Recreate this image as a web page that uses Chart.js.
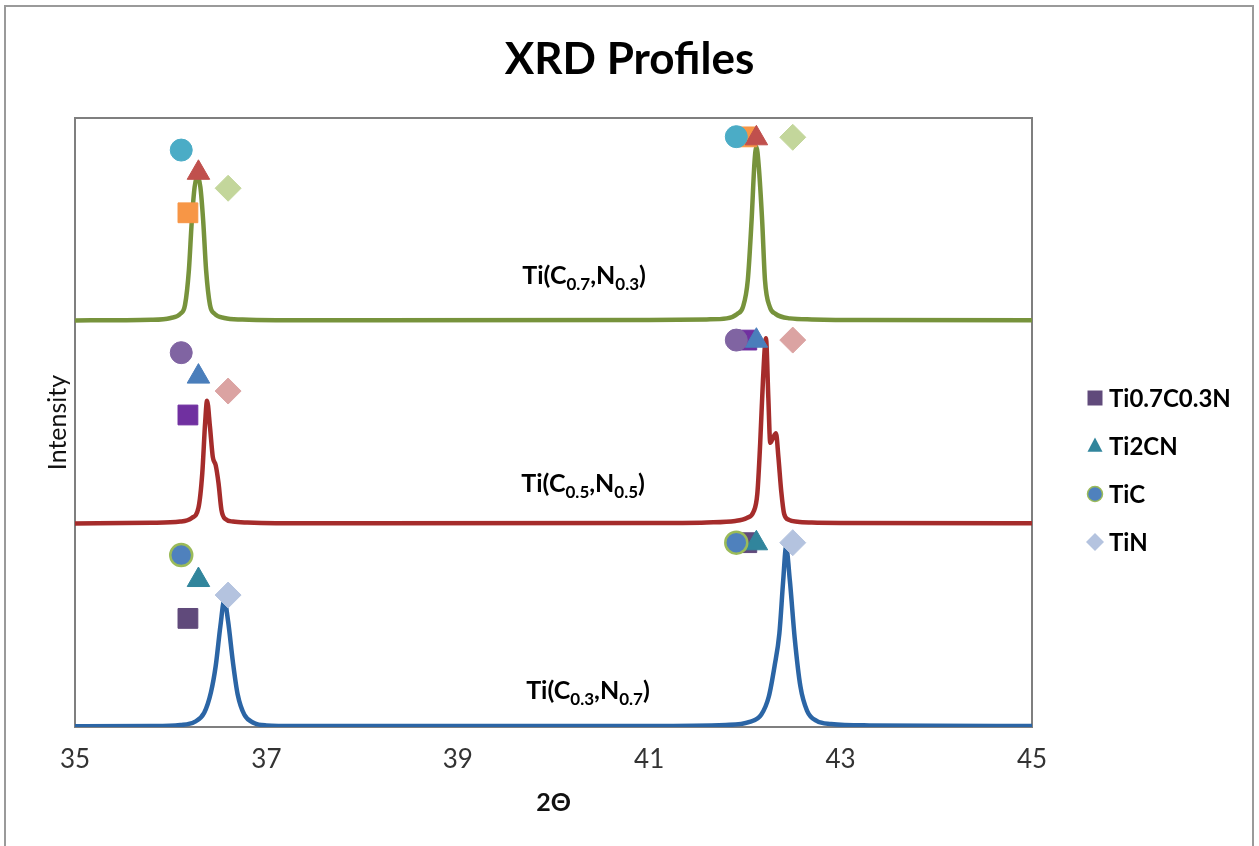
<!DOCTYPE html>
<html>
<head>
<meta charset="utf-8">
<script src="https://cdn.jsdelivr.net/npm/chart.js@4.4.1/dist/chart.umd.min.js"></script>
<style>
  html, body { margin: 0; padding: 0; background: #fff; }
  #wrap { position: relative; width: 1259px; height: 846px; overflow: hidden; }
  #xrd { position: absolute; left: 0; top: 0; }
  #frame { position: absolute; left: 4px; top: 5px; width: 1250px; height: 900px;
           border: 2px solid #9a9a9a; box-sizing: border-box; pointer-events: none; }
</style>
</head>
<body>
<div id="wrap">
  <canvas id="xrd" width="1259" height="846"></canvas>
  <div id="frame"></div>
</div>
<script>
// phases marked on the peaks (legend order)
const phases = ['Ti0.7C0.3N', 'Ti2CN', 'TiC', 'TiN'];
const phaseShapes = ['rect', 'triangle', 'circle', 'rectRot'];

// samples, bottom to top
const sampleC = ['0.3', '0.5', '0.7'];
const sampleN = ['0.7', '0.5', '0.3'];

// Ti(C0.3,N0.7) profile (offset 0)
const c03X = [35, 35.8, 36.1, 36.25, 36.35, 36.42, 36.47, 36.52, 36.56, 36.6, 36.65, 36.7, 36.77, 36.87, 37.0, 37.3,
              41.0, 41.8, 42.05, 42.17, 42.25, 42.31, 42.36, 42.4, 42.43, 42.47, 42.52, 42.58, 42.65, 42.75, 42.9, 43.3, 45];
const c03Y = [0.004, 0.005, 0.01, 0.025, 0.07, 0.17, 0.3, 0.5, 0.625, 0.52, 0.32, 0.16, 0.06, 0.02, 0.008, 0.005,
              0.005, 0.01, 0.025, 0.06, 0.15, 0.3, 0.46, 0.72, 0.885, 0.72, 0.44, 0.2, 0.08, 0.03, 0.015, 0.008, 0.005];

// Ti(C0.5,N0.5) profile (offset 1)
const c05X = [35, 35.8, 36.1, 36.22, 36.29, 36.33, 36.36, 36.38, 36.41, 36.44, 36.47, 36.5, 36.53, 36.57, 36.65, 36.8, 37.1,
              41.0, 41.6, 41.9, 42.02, 42.09, 42.13, 42.16, 42.19, 42.22, 42.245, 42.265, 42.29, 42.325, 42.35, 42.38, 42.41,
              42.46, 42.55, 42.7, 43.0, 45];
const c05Y = [1.003, 1.006, 1.012, 1.03, 1.08, 1.25, 1.5, 1.607, 1.48, 1.33, 1.29, 1.2, 1.07, 1.025, 1.012, 1.007, 1.004,
              1.005, 1.008, 1.015, 1.03, 1.06, 1.15, 1.4, 1.72, 1.915, 1.62, 1.4, 1.42, 1.447, 1.33, 1.16, 1.05,
              1.02, 1.011, 1.007, 1.005, 1.004];

// Ti(C0.7,N0.3) profile (offset 2)
const c07X = [35, 35.8, 36.0, 36.1, 36.15, 36.19, 36.22, 36.25, 36.28, 36.31, 36.34, 36.37, 36.41, 36.46, 36.56, 36.75, 37.1,
              41.0, 41.6, 41.81, 41.92, 41.98, 42.03, 42.07, 42.1, 42.12, 42.145, 42.18, 42.21, 42.26, 42.32, 42.47, 42.7, 43.2, 45];
const c07Y = [2.003, 2.006, 2.015, 2.035, 2.08, 2.25, 2.49, 2.66, 2.71, 2.66, 2.49, 2.25, 2.08, 2.035, 2.015, 2.007, 2.004,
              2.005, 2.008, 2.013, 2.035, 2.07, 2.2, 2.497, 2.78, 2.858, 2.76, 2.497, 2.2, 2.07, 2.035, 2.013, 2.008, 2.005, 2.004];

// reference peak positions for each phase (low angle, high angle)
const markX = [[36.18, 42.02], [36.29, 42.12], [36.11, 41.91], [36.6, 42.5]];
// marker heights per sample, in phase order
const c03MarkY = [[0.535, 0.908], [0.724, 0.905], [0.847, 0.908], [0.65, 0.908]];
const c05MarkY = [[1.537, 1.906], [1.726, 1.903], [1.844, 1.906], [1.655, 1.906]];
const c07MarkY = [[2.533, 2.907], [2.73, 2.9], [2.842, 2.908], [2.654, 2.905]];

const xTicks = [35, 37, 39, 41, 43, 45];

// styles
const lineColors = ['#2b65a5', '#a52c2b', '#77933c'];
const markFill = [
  ['#604a7b', '#31859c', '#4f81bd', '#b4c3df'],
  ['#7030a0', '#4a7ebb', '#8064a2', '#dba3a2'],
  ['#f79646', '#c0504d', '#4bacc6', '#c3d69b']
];
const markStroke = [
  ['#604a7b', '#31859c', '#9bbb59', '#b4c3df'],
  ['#7030a0', '#4a7ebb', '#8064a2', '#dba3a2'],
  ['#f79646', '#c0504d', '#4bacc6', '#c3d69b']
];
const markRadius = [14, 13, 11, 13];
const markOrder = [4, 3, 2, 1];

const profiles = [[c03X, c03Y], [c05X, c05Y], [c07X, c07Y]];
const markYs = [c03MarkY, c05MarkY, c07MarkY];

const datasets = [];
profiles.forEach(([xs, ys], s) => {
  datasets.push({
    label: 'Ti(C' + sampleC[s] + ',N' + sampleN[s] + ')',
    data: xs.map((x, i) => ({ x, y: ys[i] })),
    showLine: true,
    borderColor: lineColors[s],
    backgroundColor: lineColors[s],
    borderWidth: 4.5,
    pointRadius: 0,
    cubicInterpolationMode: 'monotone',
    order: 10
  });
});
markYs.forEach((my, s) => {
  phases.forEach((p, k) => {
    datasets.push({
      label: p,
      data: markX[k].map((x, i) => ({ x, y: my[k][i] })),
      pointStyle: phaseShapes[k],
      pointRadius: markRadius[k],
      pointHoverRadius: markRadius[k],
      backgroundColor: markFill[s][k],
      borderColor: markStroke[s][k],
      borderWidth: k === 2 && s === 0 ? 2.5 : 1,
      order: markOrder[k]
    });
  });
});

function drawShape(ctx, shape, x, y, r) {
  ctx.beginPath();
  if (shape === 'rect') {
    ctx.rect(x - r, y - r, 2 * r, 2 * r);
  } else if (shape === 'triangle') {
    ctx.moveTo(x, y - r * 1.15);
    ctx.lineTo(x + r, y + r * 0.75);
    ctx.lineTo(x - r, y + r * 0.75);
    ctx.closePath();
  } else if (shape === 'circle') {
    ctx.arc(x, y, r, 0, Math.PI * 2);
  } else {
    ctx.moveTo(x, y - r * 1.2);
    ctx.lineTo(x + r * 1.2, y);
    ctx.lineTo(x, y + r * 1.2);
    ctx.lineTo(x - r * 1.2, y);
    ctx.closePath();
  }
}

const extras = {
  id: 'extras',
  beforeDatasetsDraw(chart) {
    const { ctx, chartArea: a } = chart;
    ctx.save();
    ctx.strokeStyle = '#7f7f7f';
    ctx.lineWidth = 2;
    ctx.strokeRect(a.left, a.top, a.right - a.left, a.bottom - a.top);
    ctx.restore();
  },
  afterDatasetsDraw(chart, args, opts) {
    const { ctx, scales: { x, y } } = chart;
    ctx.save();
    ctx.fillStyle = '#000';
    ctx.textBaseline = 'alphabetic';
    const big = 'bold 25px Lato, "Open Sans", sans-serif';
    const small = 'bold 17px Lato, "Open Sans", sans-serif';
    opts.anchors.forEach((an, s) => {
      const parts = [['Ti(C', big, 0], [sampleC[s], small, 6], [',N', big, 0], [sampleN[s], small, 6], [')', big, 0]];
      let w = 0;
      parts.forEach(p => { ctx.font = p[1]; w += ctx.measureText(p[0]).width; });
      let px = x.getPixelForValue(an.x) - w / 2;
      const py = y.getPixelForValue(an.y);
      parts.forEach(p => {
        ctx.font = p[1];
        ctx.fillText(p[0], px, py + p[2]);
        px += ctx.measureText(p[0]).width;
      });
    });

    // legend
    const lg = opts.legend;
    ctx.font = 'bold 24px Lato, "Open Sans", sans-serif';
    ctx.textBaseline = 'middle';
    phases.forEach((p, k) => {
      const cy = lg.top + k * lg.step;
      drawShape(ctx, phaseShapes[k], lg.left, cy, 7.5);
      ctx.fillStyle = markFill[0][k];
      ctx.fill();
      if (k === 2) { ctx.strokeStyle = markStroke[0][k]; ctx.lineWidth = 1.5; ctx.stroke(); }
      ctx.fillStyle = '#000';
      ctx.fillText(p, lg.left + 14, cy + 1);
    });
    ctx.restore();
  }
};

new Chart(document.getElementById('xrd'), {
  type: 'scatter',
  data: { datasets },
  plugins: [extras],
  options: {
    responsive: false,
    animation: false,
    layout: { padding: 0 },
    scales: {
      x: {
        type: 'linear',
        min: 35,
        max: 45,
        afterBuildTicks: (scale) => { scale.ticks = xTicks.map(v => ({ value: v })); },
        afterFit: (scale) => { scale.height = 119; },
        grid: { display: false, drawTicks: false },
        border: { display: true, color: '#404040', width: 1.5 },
        ticks: { padding: 17, color: '#333', font: { family: 'Lato', size: 26 } },
        title: {
          display: true,
          text: '2Θ',
          color: '#111',
          font: { family: 'Lato', size: 25, weight: 'bold' },
          padding: { top: 0, bottom: 28 }
        }
      },
      y: {
        min: 0,
        max: 3,
        afterFit: (scale) => { scale.width = 75; },
        grid: { display: false, drawTicks: false },
        border: { display: false },
        ticks: { display: false },
        title: {
          display: true,
          text: 'Intensity',
          color: '#111',
          font: { family: 'Lato', size: 25 },
          padding: { top: 43, bottom: 0 }
        }
      },
      // empty right-hand band that holds the legend
      legendBand: {
        position: 'right',
        afterFit: (scale) => { scale.width = 227; },
        grid: { display: false, drawTicks: false },
        border: { display: false },
        ticks: { display: false }
      }
    },
    plugins: {
      legend: { display: false },
      tooltip: { enabled: false },
      title: {
        display: true,
        text: 'XRD Profiles',
        color: '#000',
        font: { family: 'Lato', size: 44, weight: 'bold' },
        padding: { top: 33.6, bottom: 31.6 }
      },
      extras: {
        anchors: [{ x: 40.36, y: 0.138 }, { x: 40.31, y: 1.158 }, { x: 40.32, y: 2.18 }],
        legend: { left: 1095, top: 398, step: 48 }
      }
    }
  }
});
</script>
</body>
</html>
